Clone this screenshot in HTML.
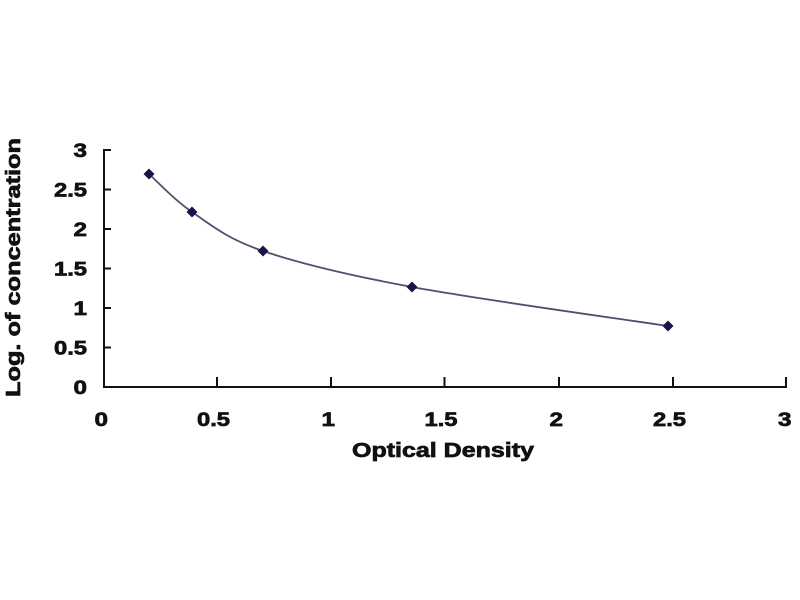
<!DOCTYPE html>
<html><head><meta charset="utf-8"><style>
html,body{margin:0;padding:0;background:#fff;}
svg{display:block;}
text{font-family:"Liberation Sans",Arial,sans-serif;font-weight:bold;fill:#111;stroke:#111;stroke-width:0.7px;}
</style></head><body>
<svg width="800" height="600" viewBox="0 0 800 600" xmlns="http://www.w3.org/2000/svg">
<rect width="800" height="600" fill="#fff"/>
<!-- axes -->
<g stroke="#111" stroke-width="2" fill="none">
<line x1="104" y1="149" x2="104" y2="388"/>
<line x1="103" y1="387" x2="787" y2="387"/>
<line x1="104" y1="150" x2="111" y2="150"/>
<line x1="104" y1="189.5" x2="111" y2="189.5"/>
<line x1="104" y1="229" x2="111" y2="229"/>
<line x1="104" y1="268.5" x2="111" y2="268.5"/>
<line x1="104" y1="308" x2="111" y2="308"/>
<line x1="104" y1="347.5" x2="111" y2="347.5"/>
<line x1="217" y1="377" x2="217" y2="387"/>
<line x1="331" y1="377" x2="331" y2="387"/>
<line x1="444.5" y1="377" x2="444.5" y2="387"/>
<line x1="559" y1="377" x2="559" y2="387"/>
<line x1="673" y1="377" x2="673" y2="387"/>
<line x1="786" y1="377" x2="786" y2="387"/>
</g>
<!-- y labels -->
<g font-size="19.5" text-anchor="end">
<text x="87" y="157" textLength="13.5" lengthAdjust="spacingAndGlyphs">3</text>
<text x="87" y="196.5" textLength="33" lengthAdjust="spacingAndGlyphs">2.5</text>
<text x="87" y="236" textLength="13.5" lengthAdjust="spacingAndGlyphs">2</text>
<text x="87" y="275.5" textLength="33" lengthAdjust="spacingAndGlyphs">1.5</text>
<text x="87" y="315" textLength="13.5" lengthAdjust="spacingAndGlyphs">1</text>
<text x="87" y="354.5" textLength="33" lengthAdjust="spacingAndGlyphs">0.5</text>
<text x="87" y="394" textLength="13.5" lengthAdjust="spacingAndGlyphs">0</text>
</g>
<!-- x labels -->
<g font-size="19.5">
<text x="94.5" y="426" textLength="13.5" lengthAdjust="spacingAndGlyphs">0</text>
<text x="197" y="426" textLength="33" lengthAdjust="spacingAndGlyphs">0.5</text>
<text x="321.5" y="426" textLength="13.5" lengthAdjust="spacingAndGlyphs">1</text>
<text x="424.5" y="426" textLength="33" lengthAdjust="spacingAndGlyphs">1.5</text>
<text x="549.5" y="426" textLength="13.5" lengthAdjust="spacingAndGlyphs">2</text>
<text x="653" y="426" textLength="33" lengthAdjust="spacingAndGlyphs">2.5</text>
<text x="778" y="426" textLength="13.5" lengthAdjust="spacingAndGlyphs">3</text>
</g>
<!-- titles -->
<text x="352" y="457" font-size="20" textLength="182" lengthAdjust="spacingAndGlyphs">Optical Density</text>
<text transform="translate(20,397) rotate(-90)" x="0" y="0" font-size="20" textLength="259" lengthAdjust="spacingAndGlyphs">Log. of concentration</text>
<!-- curve -->
<path d="M149,174 C156.2,180.3 173,199.2 192,212 C211,224.8 226.3,238.5 263,251 C299.7,263.5 344.5,274.5 412,287 C479.5,299.5 625.3,319.5 668,326" fill="none" stroke="#50506e" stroke-width="1.8"/>
<!-- markers -->
<g fill="#15154a">
<polygon points="149,168.5 154.5,174 149,179.5 143.5,174"/>
<polygon points="192,206.5 197.5,212 192,217.5 186.5,212"/>
<polygon points="263,245.5 268.5,251 263,256.5 257.5,251"/>
<polygon points="412,281.5 417.5,287 412,292.5 406.5,287"/>
<polygon points="668,320.5 673.5,326 668,331.5 662.5,326"/>
</g>
</svg>
</body></html>
